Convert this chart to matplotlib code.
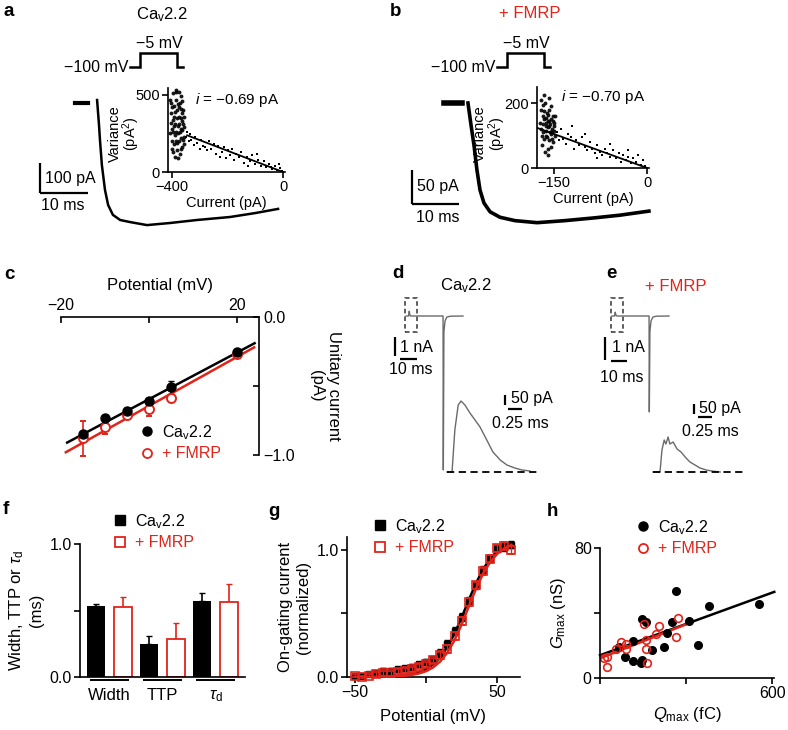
import matplotlib
matplotlib.use('Agg')
import matplotlib.pyplot as plt
from matplotlib.lines import Line2D
from matplotlib.patches import Rectangle

plt.rcParams['font.family'] = ['Liberation Sans', 'DejaVu Sans']
plt.rcParams['mathtext.fontset'] = 'custom'
plt.rcParams['mathtext.rm'] = 'Liberation Sans'
plt.rcParams['mathtext.it'] = 'Liberation Sans:italic'
plt.rcParams['mathtext.default'] = 'regular'
plt.rcParams['axes.linewidth'] = 1.2

RED = '#e2231a'
GREY = '#6a6a6a'

# ---------------- data ----------------
# a / b: whole-cell currents (ms, pA) and step protocol (ms, mV)
proto_t = [-2.0, 0.0, 0.0, 7.8, 7.8, 8.9]
proto_v = [-100, -100, -5, -5, -100, -100]

a_hold_t = [0.0, 2.7]
a_hold_i = [0, 0]
a_t = [4.6, 5.0, 5.2, 5.6, 6.25, 6.9, 7.9, 9.4, 11.5, 15.0, 19.8, 25.4, 32.3, 37.5, 42.3]
a_i = [10, -73, -123, -207, -290, -340, -373, -390, -397, -407, -400, -390, -380, -367, -353]

b_hold_t = [0.0, 3.8]
b_hold_i = [0, 0]
b_t = [5.1, 5.74, 6.38, 7.0, 7.66, 8.5, 9.8, 11.9, 15.1, 19.8, 25.7, 31.9, 37.4, 43.6]
b_i = [0, -32, -62, -98, -128, -147, -160, -168, -173, -176, -173, -169, -165, -159]

# variance vs current (pA, pA^2)
a_cluster_x = [-405, -402, -398, -395, -392, -390, -388, -385, -383, -380, -378, -376, -373, -370, -368, -365, -362, -360, -358, -356,
               -408, -404, -400, -397, -394, -391, -387, -384, -381, -379, -375, -372, -369, -366, -363, -359, -357, -406, -401, -396,
               -393, -389, -386, -382, -377, -374, -371, -367, -364, -361, -399, -389, -379, -369, -384, -396, -362, -374, -357, -366]
a_cluster_y = [320, 450, 280, 510, 180, 390, 240, 470, 140, 350, 300, 420, 200, 260, 490, 330, 160, 400, 230, 290,
               250, 380, 200, 340, 430, 300, 520, 260, 190, 440, 360, 120, 280, 220, 380, 310, 180, 470, 150, 260,
               360, 310, 200, 400, 250, 310, 450, 350, 270, 210, 420, 100, 90, 150, 530, 130, 460, 520, 360, 410]
a_tail_x = [-350, -345, -340, -335, -330, -322, -318, -310, -300, -295, -288, -280, -272, -265, -258, -250,
            -242, -235, -228, -220, -212, -205, -198, -190, -182, -175, -168, -160, -150, -140, -130, -120,
            -110, -100, -90, -80, -70, -60, -50, -40, -30, -20, -10, -5, -15, -45, -95, -125]
a_tail_y = [230, 260, 200, 245, 210, 175, 230, 190, 150, 205, 170, 160, 140, 200, 150, 180,
            120, 170, 100, 130, 160, 90, 140, 110, 150, 80, 120, 95, 130, 60, 100, 70,
            110, 50, 80, 40, 70, 30, 55, 20, 40, 15, 25, 8, 50, 35, 120, 40]
a_fit_x = [-345, 0]
a_fit_y = [238, 0]

b_cluster_x = [-170, -168, -166, -164, -162, -160, -158, -156, -154, -152, -150, -148,
               -171, -169, -167, -165, -163, -161, -159, -157, -155, -153, -151, -149,
               -172, -167, -163, -160, -157, -154, -165, -161, -158, -155, -152,
               -169, -166, -162, -159, -156, -153, -150, -171, -164, -158, -148, -167, -160, -155, -163]
b_cluster_y = [120, 160, 90, 200, 140, 60, 180, 110, 150, 80, 130, 100,
               180, 70, 135, 225, 100, 170, 40, 145, 190, 120, 160, 140,
               140, 110, 155, 125, 85, 105, 175, 95, 130, 65, 145,
               100, 150, 115, 165, 135, 90, 115, 210, 50, 215, 160, 195, 145, 110, 130]
b_tail_x = [-145, -142, -138, -135, -130, -127, -122, -118, -115, -110, -105, -100, -96, -92, -88, -84,
            -80, -76, -72, -68, -64, -60, -55, -50, -46, -42, -38, -34, -30, -26, -22, -18,
            -14, -10, -6, -3, -120, -100, -80, -60, -30]
b_tail_y = [110, 85, 120, 90, 75, 105, 95, 60, 85, 70, 95, 65, 55, 80, 60, 45,
            70, 50, 40, 60, 45, 35, 55, 30, 45, 20, 40, 25, 35, 15, 30, 20,
            40, 10, 25, 5, 130, 105, 30, 75, 55]
b_fit_x = [-177, 0]
b_fit_y = [124, 0]

# c: unitary current vs potential
c_v = [-15, -10, -5, 0, 5, 20]
cav_c = [-0.85, -0.73, -0.68, -0.61, -0.51, -0.25]
cav_c_err = [0.02, 0.02, 0.02, 0.02, 0.045, 0.02]
fmrp_c = [-0.88, -0.80, -0.71, -0.67, -0.59, -0.27]
fmrp_c_err = [0.125, 0.05, 0.02, 0.05, 0.02, 0.02]
cav_c_fit_v = [-18.6, 24.0]
cav_c_fit_i = [-0.91, -0.19]
fmrp_c_fit_v = [-18.9, 23.9]
fmrp_c_fit_i = [-0.98, -0.22]

# d / e: gating currents (ms, nA) and zoomed on-gating current (ms, pA)
d_t = [0.0, 1.5, 1.9, 2.3, 2.8, 21.8, 21.95, 22.3, 23.0, 24.0, 26.0, 33.5]
d_i = [0, 0, 0.25, 0.05, 0, 0, -8.1, -0.8, -0.25, -0.06, -0.01, 0]
e_t = [0.0, 1.5, 1.9, 2.3, 2.8, 21.8, 21.95, 22.3, 23.0, 24.0, 26.0, 33.5]
e_i = [0, 0, 0.2, 0.05, 0, 0, -5.05, -0.8, -0.25, -0.06, -0.01, 0]
zoom_box_t = [-0.6, 6.5]
zoom_box_i = [-0.85, 0.95]

d_on_t = [0.0, 0.09, 0.14, 0.2, 0.25, 0.32, 0.41, 0.5, 0.59, 0.71, 0.82, 0.95, 1.07, 1.21, 1.34, 1.48]
d_on_i = [0, 0, 210, 335, 355, 335, 295, 260, 225, 160, 100, 60, 35, 20, 10, 5]
e_on_t = [0.0, 0.125, 0.16, 0.2, 0.23, 0.27, 0.3, 0.36, 0.43, 0.5, 0.59, 0.66, 0.75, 0.84, 0.95, 1.05, 1.2]
e_on_i = [0, 0, 110, 160, 140, 175, 140, 150, 115, 100, 70, 50, 35, 20, 10, 5, 0]
on_base_t = [0.0, 1.62]

# f: kinetics (ms)
f_groups = ['Width', 'TTP', r'$\mathit{\tau}_{d}$']
cav_f = [0.534, 0.248, 0.571]
cav_f_err = [0.015, 0.06, 0.06]
fmrp_f = [0.526, 0.286, 0.564]
fmrp_f_err = [0.075, 0.12, 0.135]

# g: normalized on-gating current vs potential
g_v = [-50, -45, -40, -35, -30, -25, -20, -15, -10, -5, 0, 5, 10, 15, 20, 25, 30, 35, 40, 45, 50, 55, 60]
cav_g = [0.01, 0.01, 0.02, 0.03, 0.05, 0.05, 0.06, 0.07, 0.08, 0.10, 0.12, 0.14, 0.19, 0.26, 0.36, 0.47,
         0.60, 0.72, 0.84, 0.93, 1.01, 1.02, 1.04]
cav_g_err = [0.01, 0.01, 0.01, 0.02, 0.02, 0.02, 0.02, 0.02, 0.02, 0.02, 0.02, 0.02, 0.03, 0.03, 0.03, 0.03,
             0.03, 0.03, 0.03, 0.03, 0.03, 0.03, 0.03]
fmrp_g = [0.01, 0.00, 0.01, 0.02, 0.03, 0.03, 0.04, 0.05, 0.06, 0.08, 0.10, 0.13, 0.17, 0.22, 0.32, 0.44,
          0.59, 0.72, 0.83, 0.93, 1.01, 1.03, 1.00]
fmrp_g_err = [0.01, 0.01, 0.01, 0.02, 0.02, 0.02, 0.02, 0.02, 0.02, 0.02, 0.02, 0.02, 0.03, 0.03, 0.03, 0.03,
              0.03, 0.03, 0.03, 0.03, 0.03, 0.03, 0.03]
cav_g_fit = [0.0005, 0.0007, 0.0012, 0.002, 0.0033, 0.0055, 0.009, 0.015, 0.024, 0.039, 0.063, 0.100,
             0.156, 0.236, 0.341, 0.468, 0.605, 0.735, 0.845, 0.930, 0.990, 1.031, 1.057]
fmrp_g_fit = [0.0003, 0.0005, 0.0007, 0.0012, 0.002, 0.0035, 0.006, 0.010, 0.017, 0.028, 0.046, 0.076,
              0.123, 0.193, 0.290, 0.414, 0.554, 0.692, 0.811, 0.903, 0.968, 1.011, 1.038]

# h: Gmax vs Qmax
cav_h_q = [264, 145, 160, 250, 310, 380, 555, 340, 224, 181, 116, 87, 114, 145, 142, 66, 234]
cav_h_g = [53.5, 36.3, 34.7, 34.7, 35.0, 44.5, 45.5, 20.3, 19.3, 17.2, 22.8, 13.1, 10.7, 11.0, 9.4, 19.0, 27.9]
fmrp_h_q = [273, 207, 153, 195, 266, 159, 72, 89, 55, 92, 159, 25, 14, 25, 165]
fmrp_h_g = [37.1, 32.0, 33.0, 26.9, 25.0, 23.4, 22.3, 20.9, 17.8, 17.8, 17.8, 12.7, 12.1, 7.0, 9.0]
cav_h_fit_q = [0, 607]
cav_h_fit_g = [14.0, 53.0]
fmrp_h_fit_q = [0, 302]
fmrp_h_fit_g = [12.1, 33.2]

CAV = r'Ca$_{v}$2.2'
FMRP = '+ FMRP'

# ---------------- layout helpers (pixel coordinates) ----------------
W, H = 788, 730
fig = plt.figure(figsize=(W / 100, H / 100), dpi=100)
fig.patch.set_facecolor('white')


def fig_axes(x0, y0, x1, y1):
    return fig.add_axes([x0 / W, 1 - y1 / H, (x1 - x0) / W, (y1 - y0) / H])


def trace_axes(x0, y0, x1, y1, ox, oy, sx, sy):
    ax = fig_axes(x0, y0, x1, y1)
    ax.set_xlim((x0 - ox) / sx, (x1 - ox) / sx)
    ax.set_ylim((oy - y1) / sy, (oy - y0) / sy)
    ax.axis('off')
    return ax


def ftext(x, y, s, **kw):
    kw.setdefault('va', 'center')
    fig.text(x / W, 1 - y / H, s, **kw)


def style(ax, fs=11.5):
    ax.spines['top'].set_visible(False)
    ax.spines['right'].set_visible(False)
    ax.tick_params(direction='out', length=4, width=1.2, labelsize=fs, pad=2)


def legend(ax, handles, labels, x, y, fs=11.5):
    ax.legend(handles, labels, loc='upper left', bbox_to_anchor=(x / W, 1 - y / H),
              bbox_transform=fig.transFigure, frameon=False, borderpad=0, borderaxespad=0,
              handlelength=0.8, handletextpad=0.5, labelspacing=0.3, fontsize=fs,
              labelcolor='markeredgecolor')


def h_black(m, ms):
    return Line2D([], [], marker=m, ls='none', color='k', ms=ms)


def h_red(m, ms):
    return Line2D([], [], marker=m, ls='none', mfc='white', mec=RED, mew=1.3, ms=ms)


# panel letters and titles
for x, y, s in [(4, 12, 'a'), (390, 12, 'b'), (4, 275, 'c'), (392, 274, 'd'),
                (606, 274, 'e'), (3, 510, 'f'), (268, 512, 'g'), (547, 512, 'h')]:
    ftext(x, y, s, fontsize=13.5, fontweight='bold', ha='left')
ftext(162, 15, CAV, fontsize=12, ha='center')
ftext(530, 14, FMRP, fontsize=12, ha='center', color=RED)
ftext(466, 286, CAV, fontsize=12, ha='center')
ftext(676, 286, FMRP, fontsize=12, ha='center', color=RED)

# ---------------- a / b ----------------
for ox, tx, sx in [(140, 128, 4.8), (507, 495, 4.8)]:
    ap = trace_axes(ox - 20, 40, ox + 55, 80, ox, 52.26, sx, 14 / 95)
    ap.plot(proto_t, proto_v, color='k', lw=1.8, solid_joinstyle='miter')
    ftext(tx, 67, '\u2212100 mV', fontsize=11.5, ha='right')
    ftext(ox + 19, 44, '\u22125 mV', fontsize=11.5, ha='center')

ta = trace_axes(30, 90, 300, 240, 75, 103, 4.8, 0.3)
ta.plot(a_hold_t, a_hold_i, color='k', lw=3)
ta.plot(a_t, a_i, color='k', lw=1.8)
ta.plot([-7.3, -7.3], [-200, -300], color='k', lw=1.6, solid_capstyle='butt')
ta.plot([-7.3, 2.7], [-300, -300], color='k', lw=1.6, solid_capstyle='butt')
ftext(45, 178, '100 pA', fontsize=11.5, ha='left')
ftext(63, 205, '10 ms', fontsize=11.5, ha='center')

tb = trace_axes(400, 90, 670, 240, 444, 103, 4.7, 0.68)
tb.plot(b_hold_t, b_hold_i, color='k', lw=4)
tb.plot(b_t, b_i, color='k', lw=2.6)
tb.plot([-6.8, -6.8], [-98.5, -148.5], color='k', lw=1.6, solid_capstyle='butt')
tb.plot([-6.8, 3.2], [-148.5, -148.5], color='k', lw=1.6, solid_capstyle='butt')
ftext(417, 187, '50 pA', fontsize=11.5, ha='left')
ftext(438, 218, '10 ms', fontsize=11.5, ha='center')

for box, cx, cy, tx, ty, fx, fy, xl, xt, xtl, yt, lab_xy in [
        ((168, 88, 285, 172), a_cluster_x, a_cluster_y, a_tail_x, a_tail_y, a_fit_x, a_fit_y,
         (-414, 7, 0, 545), [-400, 0], ['\u2212400', '0'], [0, 500], (-0.22, 0.46)),
        ((537, 87, 649, 168), b_cluster_x, b_cluster_y, b_tail_x, b_tail_y, b_fit_x, b_fit_y,
         (-177, 3, 0, 250), [-150, 0], ['\u2212150', '0'], [0, 200], (-0.26, 0.43))]:
    ia = fig_axes(*box)
    ia.plot(cx, cy, 'o', color='k', ms=2.8, mew=0, alpha=0.9, clip_on=False)
    ia.plot(tx, ty, 's', color='k', ms=1.5, mew=0, clip_on=False)
    ia.plot(fx, fy, color='k', lw=1.3)
    ia.set_xlim(xl[0], xl[1])
    ia.set_ylim(xl[2], xl[3])
    style(ia, fs=10.5)
    ia.set_xticks(xt)
    ia.set_xticklabels(xtl)
    ia.set_yticks(yt)
    ia.set_xlabel('Current (pA)', fontsize=10.5, labelpad=1)
    ia.set_ylabel('Variance\n(pA$^{2}$)', fontsize=10.5, linespacing=0.95)
    ia.yaxis.set_label_coords(*lab_xy)

ftext(195, 100, r'$\mathit{i}$ = ' + '\u22120.69 pA', fontsize=11, ha='left')
ftext(561, 97, r'$\mathit{i}$ = ' + '\u22120.70 pA', fontsize=11, ha='left')

# ---------------- c ----------------
ac = fig_axes(61, 317, 259, 455)
ac.plot(cav_c_fit_v, cav_c_fit_i, color='k', lw=1.8, clip_on=False)
ac.plot(fmrp_c_fit_v, fmrp_c_fit_i, color=RED, lw=1.8, clip_on=False)
ac.errorbar(c_v, fmrp_c, yerr=fmrp_c_err, fmt='o', color=RED, mfc='white', mec=RED, mew=1.4,
            ms=6.5, capsize=2.5, elinewidth=1.2, clip_on=False)
ac.errorbar(c_v, cav_c, yerr=cav_c_err, fmt='o', color='k', ms=6.5, capsize=2.5,
            elinewidth=1.2, clip_on=False)
ac.set_xlim(-20, 25)
ac.set_ylim(-1.0, 0)
ac.spines['left'].set_visible(False)
ac.spines['bottom'].set_visible(False)
ac.xaxis.tick_top()
ac.yaxis.tick_right()
ac.xaxis.set_label_position('top')
ac.yaxis.set_label_position('right')
ac.tick_params(direction='in', length=4, width=1.2, labelsize=11.5, pad=3)
ac.set_xticks([-20, 0, 20])
ac.set_xticklabels(['\u221220', '', '20'])
ac.set_yticks([0, -0.5, -1.0])
ac.set_yticklabels(['0.0', '', '\u22121.0'])
ac.set_xlabel('Potential (mV)', fontsize=12, labelpad=6)
ac.set_ylabel('Unitary current\n(pA)', fontsize=12, rotation=270, va='bottom', labelpad=10)
legend(ac, [h_black('o', 6.5), h_red('o', 6.5)], [CAV, FMRP], 141, 423)

# ---------------- d / e ----------------
for (ox, tr_t, tr_i, on_x, on_t, on_i, bars) in [
        (406, d_t, d_i, 447, d_on_t, d_on_i, 'd'),
        (612, e_t, e_i, 653, e_on_t, e_on_i, 'e')]:
    tm = trace_axes(ox - 30, 290, ox + 70, 480, ox, 316, 1.7, 19)
    tm.plot(tr_t, tr_i, color=GREY, lw=1.0)
    tm.add_patch(Rectangle((zoom_box_t[0], zoom_box_i[0]), zoom_box_t[1] - zoom_box_t[0],
                           zoom_box_i[1] - zoom_box_i[0], fill=False, ec='#333333', lw=1.1,
                           ls=(0, (3, 2))))
    ti = trace_axes(on_x - 8, 380, on_x + 110, 480, on_x, 472, 56, 0.2)
    ti.plot(on_t, on_i, color=GREY, lw=1.0)
    ti.plot(on_base_t, [0, 0], color='k', lw=1.3, ls=(0, (4, 2.5)))
    if bars == 'd':
        tm.plot([-6.5, -6.5], [-1.1, -2.1], color='k', lw=1.6, solid_capstyle='butt')
        tm.plot([-3.5, 6.5], [-2.26, -2.26], color='k', lw=1.6, solid_capstyle='butt')
        ftext(400, 347, '1 nA', fontsize=11.5, ha='left')
        ftext(411, 370, '10 ms', fontsize=11.5, ha='center')
        ti.plot([1.04, 1.04], [385, 335], color='k', lw=1.6, solid_capstyle='butt')
        ti.plot([1.09, 1.34], [315, 315], color='k', lw=1.6, solid_capstyle='butt')
        ftext(511, 399, '50 pA', fontsize=11.5, ha='left')
        ftext(520, 423, '0.25 ms', fontsize=11.5, ha='center')
    else:
        tm.plot([-4.1, -4.1], [-1.1, -2.3], color='k', lw=1.6, solid_capstyle='butt')
        tm.plot([-0.6, 8.8], [-2.37, -2.37], color='k', lw=1.6, solid_capstyle='butt')
        ftext(612, 347, '1 nA', fontsize=11.5, ha='left')
        ftext(622, 377, '10 ms', fontsize=11.5, ha='center')
        ti.plot([0.73, 0.73], [340, 290], color='k', lw=1.6, solid_capstyle='butt')
        ti.plot([0.80, 1.05], [275, 275], color='k', lw=1.6, solid_capstyle='butt')
        ftext(699, 408, '50 pA', fontsize=11.5, ha='left')
        ftext(710, 432, '0.25 ms', fontsize=11.5, ha='center')

# ---------------- f ----------------
af = fig_axes(80, 544, 245, 677)
gx = [0, 1, 2]
bw = 0.34
off = 0.255
af.bar([x - off for x in gx], cav_f, bw, color='k', zorder=2)
af.errorbar([x - off for x in gx], cav_f, yerr=[[0, 0, 0], cav_f_err], fmt='none', ecolor='k',
            capsize=2.5, elinewidth=1.2, zorder=1)
af.bar([x + off for x in gx], fmrp_f, bw, facecolor='white', edgecolor=RED, linewidth=1.3, zorder=2)
af.errorbar([x + off for x in gx], fmrp_f, yerr=[[0, 0, 0], fmrp_f_err], fmt='none', ecolor=RED,
            capsize=2.5, elinewidth=1.2, zorder=1)
for x in gx:
    af.plot([x - 0.37, x + 0.37], [-0.025, -0.025], color='k', lw=1.4, clip_on=False,
            solid_capstyle='butt')
af.set_xlim(-0.557, 2.557)
af.set_ylim(0, 1.0)
style(af)
af.set_xticks(gx)
af.set_xticklabels(f_groups, fontsize=12)
af.tick_params(axis='x', length=0, pad=8)
af.set_yticks([0, 0.5, 1.0])
af.set_yticklabels(['0.0', '', '1.0'])
af.set_ylabel('Width, TTP or ' + r'$\mathit{\tau}_{d}$' + '\n(ms)', fontsize=12, labelpad=4)
legend(af, [h_black('s', 7), h_red('s', 7)], [CAV, FMRP], 114, 512)

# ---------------- g ----------------
ag = fig_axes(347, 537, 520, 677)
ag.plot(g_v, cav_g_fit, color='k', lw=1.8, zorder=3)
ag.plot(g_v, fmrp_g_fit, color=RED, lw=1.8, zorder=4)
ag.errorbar(g_v, cav_g, yerr=cav_g_err, fmt='s', color='k', ms=5, capsize=2, elinewidth=1,
            clip_on=False, zorder=2)
ag.errorbar(g_v, fmrp_g, yerr=fmrp_g_err, fmt='s', color=RED, mfc='none', mec=RED, mew=1.2, ms=5.5,
            capsize=2, elinewidth=1, clip_on=False, zorder=3)
ag.set_xlim(-55.6, 66)
ag.set_ylim(0, 1.1)
style(ag)
ag.set_xticks([-50, 0, 50])
ag.set_xticklabels(['\u221250', '', '50'])
ag.set_yticks([0, 0.5, 1.0])
ag.set_yticklabels(['0.0', '', '1.0'])
ag.set_xlabel('Potential (mV)', fontsize=12, labelpad=6)
ag.set_ylabel('On-gating current\n(normalized)', fontsize=12, labelpad=4)
legend(ag, [h_black('s', 7), h_red('s', 7)], [CAV, FMRP], 374, 517)

# ---------------- h ----------------
ah = fig_axes(600, 548, 774, 678)
ah.plot(cav_h_fit_q, cav_h_fit_g, color='k', lw=1.8, clip_on=False)
ah.plot(fmrp_h_fit_q, fmrp_h_fit_g, color=RED, lw=1.8)
ah.plot(cav_h_q, cav_h_g, 'o', color='k', ms=5.5, clip_on=False)
ah.plot(fmrp_h_q, fmrp_h_g, 'o', mfc='none', mec=RED, mew=1.2, ms=5.5, clip_on=False)
ah.set_xlim(0, 606)
ah.set_ylim(0, 80)
style(ah)
ah.set_xticks([0, 300, 600])
ah.set_xticklabels(['', '', '600'])
ah.set_yticks([0, 40, 80])
ah.set_yticklabels(['0', '', '80'])
ah.set_xlabel(r'$\mathit{Q}_{max}$ (fC)', fontsize=12, labelpad=3)
ah.set_ylabel(r'$\mathit{G}_{max}$ (nS)', fontsize=12, labelpad=4)
legend(ah, [h_black('o', 6.5), h_red('o', 6.5)], [CAV, FMRP], 637, 518)

fig.savefig('out.png', dpi=100, facecolor='white')
